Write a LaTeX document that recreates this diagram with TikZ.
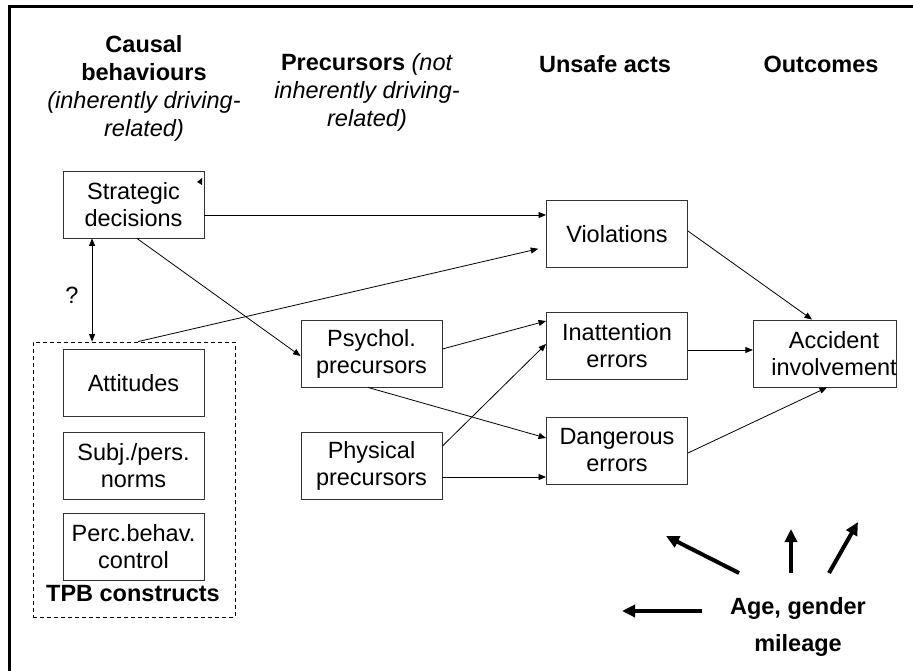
\documentclass[tikz,border=0pt]{standalone}
\usepackage{fontspec}
\setmainfont{Liberation Sans}
\usetikzlibrary{arrows.meta}
\tikzset{
  stage/.style={draw=black!80, line width=0.9pt, minimum width=141pt, minimum height=67pt,
    inner sep=0pt, align=center, font=\fontsize{23.5}{27}\selectfont},
  heading/.style={align=center, inner sep=0pt, font=\fontsize{23.5}{28}\selectfont},
  link/.style={line width=0.8pt, -{Triangle[length=7.5pt,width=6pt]}},
  twoway/.style={line width=0.8pt, {Triangle[length=7.5pt,width=6pt]}-{Triangle[length=7.5pt,width=6pt]}},
  push/.style={line width=4pt, -{Triangle[length=13pt,width=12pt]}}
}
\begin{document}
\begin{tikzpicture}[x=1pt,y=-1pt]
  \useasboundingbox (0,0) rectangle (913,671);
  \draw[line width=3pt] (913,7) -- (9.5,7) -- (9.5,671);
  %column headings
  \node[heading] (causal) at (144,88) {\textbf{Causal}\\\textbf{behaviours}\\\textit{(inherently driving-}\\\textit{related)}};
  \node[heading] (precursors) at (367,92) {\textbf{Precursors} \textit{(not}\\\textit{inherently driving-}\\\textit{related)}};
  \node[heading] (unsafe) at (605,64) {\textbf{Unsafe acts}};
  \node[heading] (outcomes) at (821,64) {\textbf{Outcomes}};
  %boxes
  \node[draw, line width=0.8pt, dash pattern=on 4pt off 3pt, minimum width=202pt, minimum height=275pt] (tpb) at (134,479.5) {};
  \node[stage] (strategic) at (133.5,204.5) {Strategic\\decisions};
  \node[stage] (attitudes) at (133.5,383) {Attitudes};
  \node[stage] (norms) at (133.5,465.5) {Subj./pers.\\norms};
  \node[stage] (control) at (133.5,546.5) {Perc.behav.\\control};
  \node[heading] (tpb label) at (133,593.5) {\textbf{TPB constructs}};
  \node[stage] (psychol) at (371.5,353.5) {Psychol.\\precursors};
  \node[stage] (physical) at (371.5,465.5) {Physical\\precursors};
  \node[stage] (violations) at (617,234) {Violations};
  \node[stage] (inattention) at (617,345.5) {Inattention\\errors};
  \node[stage] (dangerous) at (617,450.5) {Dangerous\\errors};
  \node[stage] (accident) at (825,353.5) {\hspace*{18pt}Accident\\\hspace*{18pt}involvement};
  \node[heading] (question) at (72,295) {?};
  \node[heading, font=\fontsize{23.5}{37}\selectfont] (age) at (798,627) {\textbf{Age, gender}\\\textbf{mileage}};
  \fill (197,182) -- (202,178) -- (202,185) -- cycle;
  %links
  \draw[link] ([yshift=-10.5pt]strategic.east) -- ([yshift=-10.5pt]strategic.east -| violations.west);
  \draw[link] ([xshift=3.5pt]strategic.south) -- ([yshift=-2.5pt]psychol.west);
  \draw[twoway] ([xshift=29.5pt]strategic.south west) -- ([xshift=29.5pt]strategic.south west |- tpb.north);
  \draw[link, shorten >=8pt] ([xshift=4pt]tpb.north) -- ([yshift=-13pt]violations.west);
  \draw[link] ([yshift=4.5pt]psychol.east) -- ([yshift=24.5pt]inattention.west);
  \draw[link] ([xshift=-3.5pt]psychol.south) -- ([yshift=12.5pt]dangerous.west);
  \draw[link] ([yshift=19.5pt]physical.east) -- ([yshift=1.5pt]inattention.west);
  \draw[link] ([yshift=-11.5pt]physical.east) -- ([yshift=-11.5pt]physical.east -| dangerous.west);
  \draw[link] ([yshift=3pt]violations.east) -- ([xshift=-13pt]accident.north);
  \draw[link] ([yshift=-4.5pt]inattention.east) -- ([yshift=-4.5pt]inattention.east -| accident.west);
  \draw[link] ([yshift=-2.5pt]dangerous.east) -- ([xshift=2pt]accident.south);
  %influence of age, gender, mileage
  \foreach \i/\sx/\sy/\ex/\ey in {1/739/573/666/536, 2/791/573/791/529, 3/829/573/858/522, 4/702/611/622/611}{
    \coordinate (age start \i) at (\sx,\sy);
    \coordinate (age end \i) at (\ex,\ey);
    \draw[push] (age start \i) -- (age end \i);
  }
\end{tikzpicture}
\end{document}
